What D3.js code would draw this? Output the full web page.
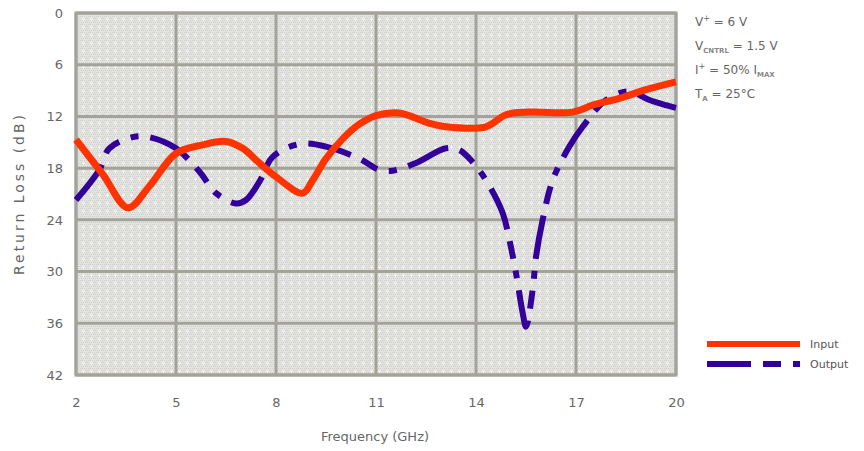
<!DOCTYPE html>
<html><head><meta charset="utf-8">
<script src="https://cdn.jsdelivr.net/npm/d3@7"></script>
<style>body{margin:0;background:#fff;}svg{display:block;}</style>
</head><body><svg id="c" width="864" height="451"></svg>
<script>
const xTicks = [2, 5, 8, 11, 14, 17, 20];
const yTicks = [0, 6, 12, 18, 24, 30, 36, 42];
const inputFreq = [2, 2.8, 3.56, 4.2, 5, 5.8, 6.5, 7, 7.5, 8, 8.8, 9.1, 9.5, 10, 10.5, 11, 11.7, 12.6, 13.1, 14.3, 14.9, 15.6, 16.9, 17.5, 18.3, 19.1, 20];
const inputDb   = [14.7, 18.7, 22.6, 20.1, 16.3, 15.3, 14.9, 15.7, 17.4, 19.0, 20.9, 19.4, 16.9, 14.6, 12.9, 11.9, 11.6, 12.8, 13.2, 13.2, 11.8, 11.5, 11.5, 10.7, 9.9, 8.9, 8.0];
const outputFreq = [2, 2.7, 3.0, 3.7, 4.2, 5.0, 5.7, 6.2, 6.8, 7.1, 7.5, 7.9, 8.7, 9.5, 10.5, 11.1, 11.5, 12.2, 13.1, 13.5, 13.9, 14.3, 14.8, 15.0, 15.2, 15.4, 15.5, 15.7, 15.8, 16.0, 16.3, 16.8, 17.2, 17.9, 18.6, 19.2, 19.7, 20];
const outputDb   = [21.7, 18.2, 15.7, 14.4, 14.4, 15.7, 18.4, 20.9, 22.1, 21.7, 19.6, 16.7, 15.2, 15.5, 16.9, 18.2, 18.3, 17.4, 15.7, 15.9, 17.3, 19.4, 23.2, 26.3, 30.2, 34.8, 36.4, 32.1, 28.3, 24.0, 19.4, 15.5, 13.2, 10.1, 9.1, 10.1, 10.7, 11.0];
const legendLabels = ["Input", "Output"];

const svg = d3.select("#c");
const L = 76, R = 676, T = 13, B = 375;
const x = d3.scaleLinear().domain([2, 20]).range([L, R]);
const y = d3.scaleLinear().domain([0, 42]).range([T, B]);

// background pattern
const defs = svg.append("defs");
const pat = defs.append("pattern").attr("id", "hatch").attr("patternUnits", "userSpaceOnUse")
  .attr("width", 8).attr("height", 8);
pat.append("rect").attr("width", 8).attr("height", 8).attr("fill", "#e3e3e1");
for (let i = 0; i < 8; i += 2) for (let j = 0; j < 8; j += 2) {
  pat.append("rect").attr("x", i + ((j/2)%2)).attr("y", j).attr("width", 1).attr("height", 1).attr("fill", "#cfcfcf");
}
pat.append("rect").attr("x", 3).attr("y", 2).attr("width", 1).attr("height", 3).attr("fill", "#f8f8e0");
pat.append("rect").attr("x", 2).attr("y", 3).attr("width", 3).attr("height", 1).attr("fill", "#f8f8e0");

svg.append("rect").attr("x", L).attr("y", T).attr("width", R - L).attr("height", B - T).attr("fill", "url(#hatch)");

const gridCol = "#a3a39a";
svg.append("g").selectAll("line").data(xTicks).join("line")
  .attr("x1", d => x(d)).attr("x2", d => x(d)).attr("y1", T).attr("y2", B)
  .attr("stroke", gridCol).attr("stroke-width", 3);
svg.append("g").selectAll("line").data(yTicks).join("line")
  .attr("x1", L).attr("x2", R).attr("y1", d => y(d)).attr("y2", d => y(d))
  .attr("stroke", gridCol).attr("stroke-width", 3);
svg.append("rect").attr("x", L).attr("y", T).attr("width", R - L).attr("height", B - T)
  .attr("fill", "none").attr("stroke", gridCol).attr("stroke-width", 3);

const font = "'DejaVu Sans', sans-serif";
const txtCol = "#666";
// axes via d3 axis, styled
const xAxis = svg.append("g").attr("transform", `translate(0,${B + 27})`)
  .call(d3.axisBottom(x).tickValues(xTicks).tickSize(0).tickPadding(0));
xAxis.select(".domain").remove();
xAxis.selectAll("text").attr("font-family", font).attr("font-size", 13).attr("fill", txtCol).attr("dy", "0.35em");
const yAxis = svg.append("g").attr("transform", `translate(${L - 13},0)`)
  .call(d3.axisLeft(y).tickValues(yTicks).tickSize(0).tickPadding(0));
yAxis.select(".domain").remove();
yAxis.selectAll("text").attr("font-family", font).attr("font-size", 13).attr("fill", txtCol);

svg.append("text").attr("x", 375).attr("y", 441).attr("text-anchor", "middle")
  .attr("font-family", font).attr("font-size", 13).attr("fill", txtCol).text("Frequency (GHz)");
svg.append("text").attr("transform", "translate(24,195) rotate(-90)").attr("text-anchor", "middle")
  .attr("font-family", font).attr("font-size", 14).attr("fill", txtCol)
  .attr("textLength", 160).attr("lengthAdjust", "spacing").text("Return Loss (dB)");

const line = d3.line().x(d => x(d[0])).y(d => y(d[1])).curve(d3.curveCatmullRom.alpha(0.5));
const clip = defs.append("clipPath").attr("id", "pc");
clip.append("rect").attr("x", L - 4).attr("y", T).attr("width", R - L + 8).attr("height", B - T);

const inCol = "#ff3300", outCol = "#330099";
const dash = "44,12,18,12,8,12";
svg.append("path").datum(d3.zip(outputFreq, outputDb)).attr("d", line)
  .attr("fill", "none").attr("stroke", outCol).attr("stroke-width", 6).attr("stroke-dasharray", dash);
svg.append("path").datum(d3.zip(inputFreq, inputDb)).attr("d", line)
  .attr("fill", "none").attr("stroke", inCol).attr("stroke-width", 7);

// legend
const lg = svg.append("g");
[[inCol, null], [outCol, dash]].forEach((c, i) => {
  const yy = 344 + i * 20;
  lg.append("line").attr("x1", 707).attr("x2", 800).attr("y1", yy).attr("y2", yy)
    .attr("stroke", c[0]).attr("stroke-width", 6).attr("stroke-dasharray", c[1]);
  lg.append("text").attr("x", 810).attr("y", yy).attr("dy", "0.35em").attr("font-family", font)
    .attr("font-size", 11).attr("fill", "#555").text(legendLabels[i]);
});

// conditions
const cond = svg.append("g").attr("font-family", font).attr("font-size", 12).attr("fill", "#666");
const t1 = cond.append("text").attr("x", 695).attr("y", 26);
t1.append("tspan").text("V");
t1.append("tspan").attr("font-size", 8).attr("dy", -5).text("+");
t1.append("tspan").attr("dy", 5).text(" = 6 V");
const t2 = cond.append("text").attr("x", 695).attr("y", 50);
t2.append("tspan").text("V");
t2.append("tspan").attr("font-size", 7).attr("font-weight", "bold").attr("fill", "#888").attr("dy", 3).text("CNTRL");
t2.append("tspan").attr("dy", -3).text(" = 1.5 V");
const t3 = cond.append("text").attr("x", 695).attr("y", 74);
t3.append("tspan").text("I");
t3.append("tspan").attr("font-size", 8).attr("dy", -5).text("+");
t3.append("tspan").attr("dy", 5).text(" = 50% I");
t3.append("tspan").attr("font-size", 7).attr("font-weight", "bold").attr("fill", "#888").attr("dy", 3).text("MAX");
const t4 = cond.append("text").attr("x", 695).attr("y", 98);
t4.append("tspan").text("T");
t4.append("tspan").attr("font-size", 7).attr("font-weight", "bold").attr("fill", "#888").attr("dy", 3).text("A");
t4.append("tspan").attr("dy", -3).text(" = 25°C");
</script></body></html>
